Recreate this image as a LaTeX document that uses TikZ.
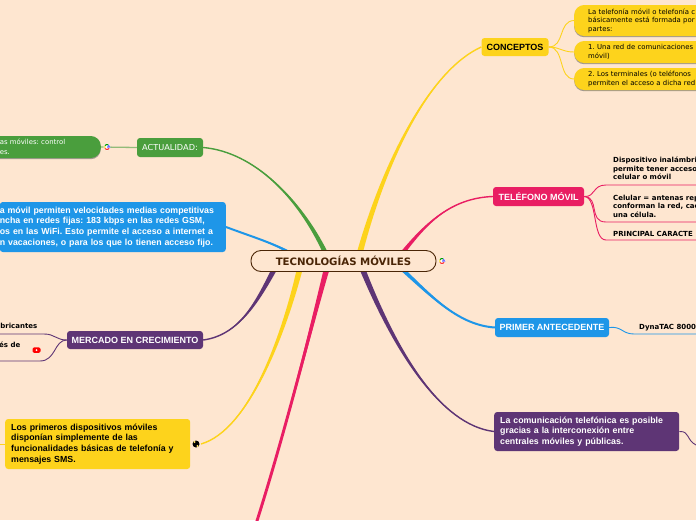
\documentclass[tikz,border=0pt]{standalone}
\usepackage{fontspec}
\setmainfont{DejaVu Sans}
\newfontfamily\arialf{Liberation Sans}
\usetikzlibrary{positioning,calc,shadows,backgrounds}
\frenchspacing

\definecolor{bgpeach}{HTML}{FEE6D0}
\definecolor{mapgreen}{HTML}{4A9E3D}
\definecolor{mapblue}{HTML}{1E96E8}
\definecolor{mappurple}{HTML}{5E3575}
\definecolor{mappink}{HTML}{E91E63}
\definecolor{mapyellow}{HTML}{FDD31C}
\definecolor{rootbrown}{HTML}{4A2506}

% tapered main branch: colour, far end, control 1, control 2, root end, half width
\newcommand{\limb}[6]{
  \fill[#1] ($(#5)+(#6,0)$) .. controls ($(#4)+(0.6*#6,0)$) and ($(#3)+(0.2*#6,0)$) .. (#2)
    .. controls ($(#3)+(-0.2*#6,0)$) and ($(#4)+(-0.6*#6,0)$) .. ($(#5)+(-#6,0)$) -- cycle;
  \draw[line width=1.4pt, #1] (#2) .. controls (#3) and (#4) .. (#5);
}
% small google mark
\newcommand{\gmark}[1]{
  \begin{scope}[shift={(#1)}, line width=1.1pt]
    \fill[white] (0,0) circle (3.4);
    \draw[red!80] (0,0) ++(150:2.5) arc[start angle=150, end angle=30, radius=2.5];
    \draw[yellow!80!orange] (0,0) ++(150:2.5) arc[start angle=150, end angle=215, radius=2.5];
    \draw[green!60!black] (0,0) ++(215:2.5) arc[start angle=215, end angle=300, radius=2.5];
    \draw[blue!60] (0,0) ++(300:2.5) arc[start angle=300, end angle=360, radius=2.5] -- (0,0);
  \end{scope}
}

\begin{document}
\begin{tikzpicture}[
    x=1pt, y=-1pt,
    rootnode/.style={draw=rootbrown, line width=0.9pt, fill=bgpeach, rounded corners=10pt,
                     minimum width=185pt, minimum height=21pt, text=rootbrown,
                     font=\fontsize{10.2}{11}\selectfont\bfseries},
    topic/.style={rounded corners=3pt, text=white, inner sep=0pt, align=left,
                  font=\arialf\fontsize{9}{10.7}\selectfont\bfseries},
    boxtopic/.style={topic, font=\arialf\fontsize{8.8}{10.7}\selectfont\bfseries},
    subpill/.style={rounded corners=10pt, anchor=west, inner sep=0pt, align=left, text=black,
                    drop shadow={shadow xshift=0pt, shadow yshift=-1.2pt, fill=black!60, opacity=0.6},
                    font=\fontsize{6.9}{8.5}\selectfont},
    subtxt/.style={anchor=west, inner sep=0pt, align=left, text=black,
                   font=\fontsize{7}{8.5}\selectfont\bfseries},
    twig/.style={line width=0.9pt},
  ]
  \useasboundingbox (0,0) rectangle (696,520);

  % ---------- root ----------
  \node[rootnode] (root) at (343.5,261) {TECNOLOGÍAS MÓVILES};

  % ---------- main topics ----------
  \node[topic, fill=mapyellow, text=black, minimum width=67pt, minimum height=18pt] (conceptos) at (515,47) {CONCEPTOS};
  \node[topic, fill=mappink, minimum width=91pt, minimum height=19pt] (telefono) at (538.5,196.5) {TELÉFONO MÓVIL};
  \node[topic, fill=mapblue, minimum width=114pt, minimum height=19pt] (primer) at (552,327.5) {PRIMER ANTECEDENTE};
  \node[boxtopic, fill=mappurple, minimum width=185pt, minimum height=39pt, anchor=west, text width=173pt, inner xsep=6pt] (comunica) at (494,431.5)
    {La comunicación telefónica es posible\\gracias a la interconexión entre\\centrales móviles y públicas.};
  \node[topic, fill=mappurple, minimum width=136pt, minimum height=18pt] (mercado) at (135,340) {MERCADO EN CRECIMIENTO};
  \node[boxtopic, fill=mapyellow, text=black, minimum width=185pt, minimum height=50pt, anchor=west, text width=173pt, inner xsep=5pt] (primeros) at (5,444)
    {Los primeros dispositivos móviles\\disponían simplemente de las\\funcionalidades básicas de telefonía y\\mensajes SMS.};
  \node[boxtopic, fill=mapblue, minimum height=50pt, anchor=east, text width=226pt, inner xsep=0pt] (velocidad) at (226,227)
    {a móvil permiten velocidades medias competitivas\\ncha en redes fijas: 183 kbps en las redes GSM,\\os en las WiFi. Esto permite el acceso a internet a\\n vacaciones, o para los que lo tienen acceso fijo.};
  \node[topic, fill=mapgreen, minimum width=66pt, minimum height=19pt,
        font=\fontsize{8.2}{9}\selectfont] (actual) at (170,147.5) {ACTUALIDAD:};

  % ---------- sub topics ----------
  \node[subpill, fill=mapyellow, minimum width=140pt, minimum height=31pt, text width=122pt, inner xsep=14pt] (telefonia) at (574,20.5)
    {La telefonía móvil o telefonía c\\básicamente está formada por\\partes:};
  \node[subpill, fill=mapyellow, minimum width=140pt, minimum height=22pt, text width=122pt, inner xsep=14pt] (red) at (574,52)
    {1. Una red de comunicaciones\\móvil)};
  \node[subpill, fill=mapyellow, minimum width=140pt, minimum height=22pt, text width=122pt, inner xsep=14pt] (terminal) at (574,79)
    {2. Los terminales (o teléfonos\\permiten el acceso a dicha red};
  \node[subpill, fill=mapgreen, anchor=east, text=white, minimum width=121pt, minimum height=22pt, text width=121pt, inner xsep=0pt,
        font=\fontsize{6.9}{9.5}\selectfont] (control) at (101,147)
    {\hspace*{20pt}as móviles: control\\\hspace*{20pt}es.};

  \node[subtxt] (inalam) at (613,168.5) {Dispositivo inalámbri\\permite tener acceso\\celular o móvil};
  \node[subtxt] (celular) at (613,206) {Celular = antenas rep\\conforman la red, cac\\una célula.};
  \node[subtxt] (princ) at (613,233.5) {PRINCIPAL CARACTE};
  \node[subtxt] (dyna) at (639,327.5) {DynaTAC 8000};
  \node[subtxt, anchor=east] (fabric) at (37.5,326) {bricantes};
  \node[subtxt, anchor=east] (pais) at (20.5,345) {és de};

  % ---------- free ends ----------
  \coordinate (rgreen) at (325,252);
  \coordinate (rblue) at (287,251);
  \coordinate (rpurple) at (275,268);
  \coordinate (ryellow) at (300,268);
  \coordinate (rpink) at (327,268);
  \coordinate (rconc) at (360,252);
  \coordinate (rtel) at (404,251);
  \coordinate (rprim) at (403,270);
  \coordinate (rcom) at (362,268);
  \coordinate (pinkout) at (256,524);
  \coordinate (yicon) at (201,444);

  \begin{scope}[on background layer]
    \fill[bgpeach] (0,0) rectangle (696,520);

    % ---------- main branches ----------
    \limb{mapgreen}{actual.east}{255,152}{300,200}{rgreen}{2.6}
    \limb{mapblue, line width=2pt}{velocidad.east}{250,236}{270,242}{rblue}{2.8}
    \limb{mappurple}{mercado.east}{240,335}{258,300}{rpurple}{3}
    \limb{mapyellow}{yicon}{250,430}{285,330}{ryellow}{3}
    \limb{mappink, line width=2.9pt}{pinkout}{289,420}{318,300}{rpink}{3}
    \limb{mapyellow}{conceptos.west}{430,70}{385,160}{rconc}{3}
    \limb{mappink}{telefono.west}{450,198}{425,225}{rtel}{2.6}
    \limb{mapblue, line width=2pt}{primer.west}{460,325}{435,300}{rprim}{2.8}
    \limb{mappurple}{comunica.west}{440,425}{395,350}{rcom}{3}

    % ---------- twigs ----------
    \draw[mapyellow, twig] (conceptos.east) .. controls (565,47) and (558,21) .. (telefonia.west);
    \draw[mapyellow, twig] (conceptos.east) .. controls (560,47) and (562,52) .. (red.west);
    \draw[mapyellow, twig] (conceptos.east) .. controls (565,47) and (558,79) .. (terminal.west);
    \draw[mapgreen!60!bgpeach, line width=1.3pt] (actual.west) -- (control.east);
    \draw[mappink, twig] (telefono.east) .. controls (596,197) and (592,185) .. (606,185) -- (696,185);
    \draw[mappink, twig] (telefono.east) .. controls (600,197) and (588,222) .. (606,222) -- (696,222);
    \draw[mappink, twig] (telefono.east) .. controls (598,197) and (592,240) .. (606,240) -- (696,240);
    \draw[mapblue, twig] (primer.east) .. controls (622,326) and (622,334) .. (634,334) -- (696,334);
    \draw[mappurple, twig] (comunica.east) .. controls (690,431) and (686,440) .. (696,445);
    \draw[mappurple, twig] (mercado.west) .. controls (56,340) and (55,334) .. (44,334) -- (0,334);
    \draw[mappurple, twig] (mercado.west) .. controls (54,340) and (56,361) .. (40,361) -- (0,361);
    \draw[mapyellow, twig] (primeros.west) -- (0,444);
  \end{scope}

  % ---------- icons ----------
  \gmark{107,147}
  \gmark{442,261}
  \node[fill=red, rounded corners=1.5pt, minimum width=8pt, minimum height=5.5pt, inner sep=0pt] (ytube) at (36.5,350) {};
  \fill[white] (ytube.center) circle (1pt);
  \node[circle, fill=black, minimum size=7pt, inner sep=0pt] (globe) at (196,444) {};
  \fill[mapyellow!70!white] (194.5,442) circle (1.1pt) (197.5,446) circle (1.2pt);
\end{tikzpicture}
\end{document}
